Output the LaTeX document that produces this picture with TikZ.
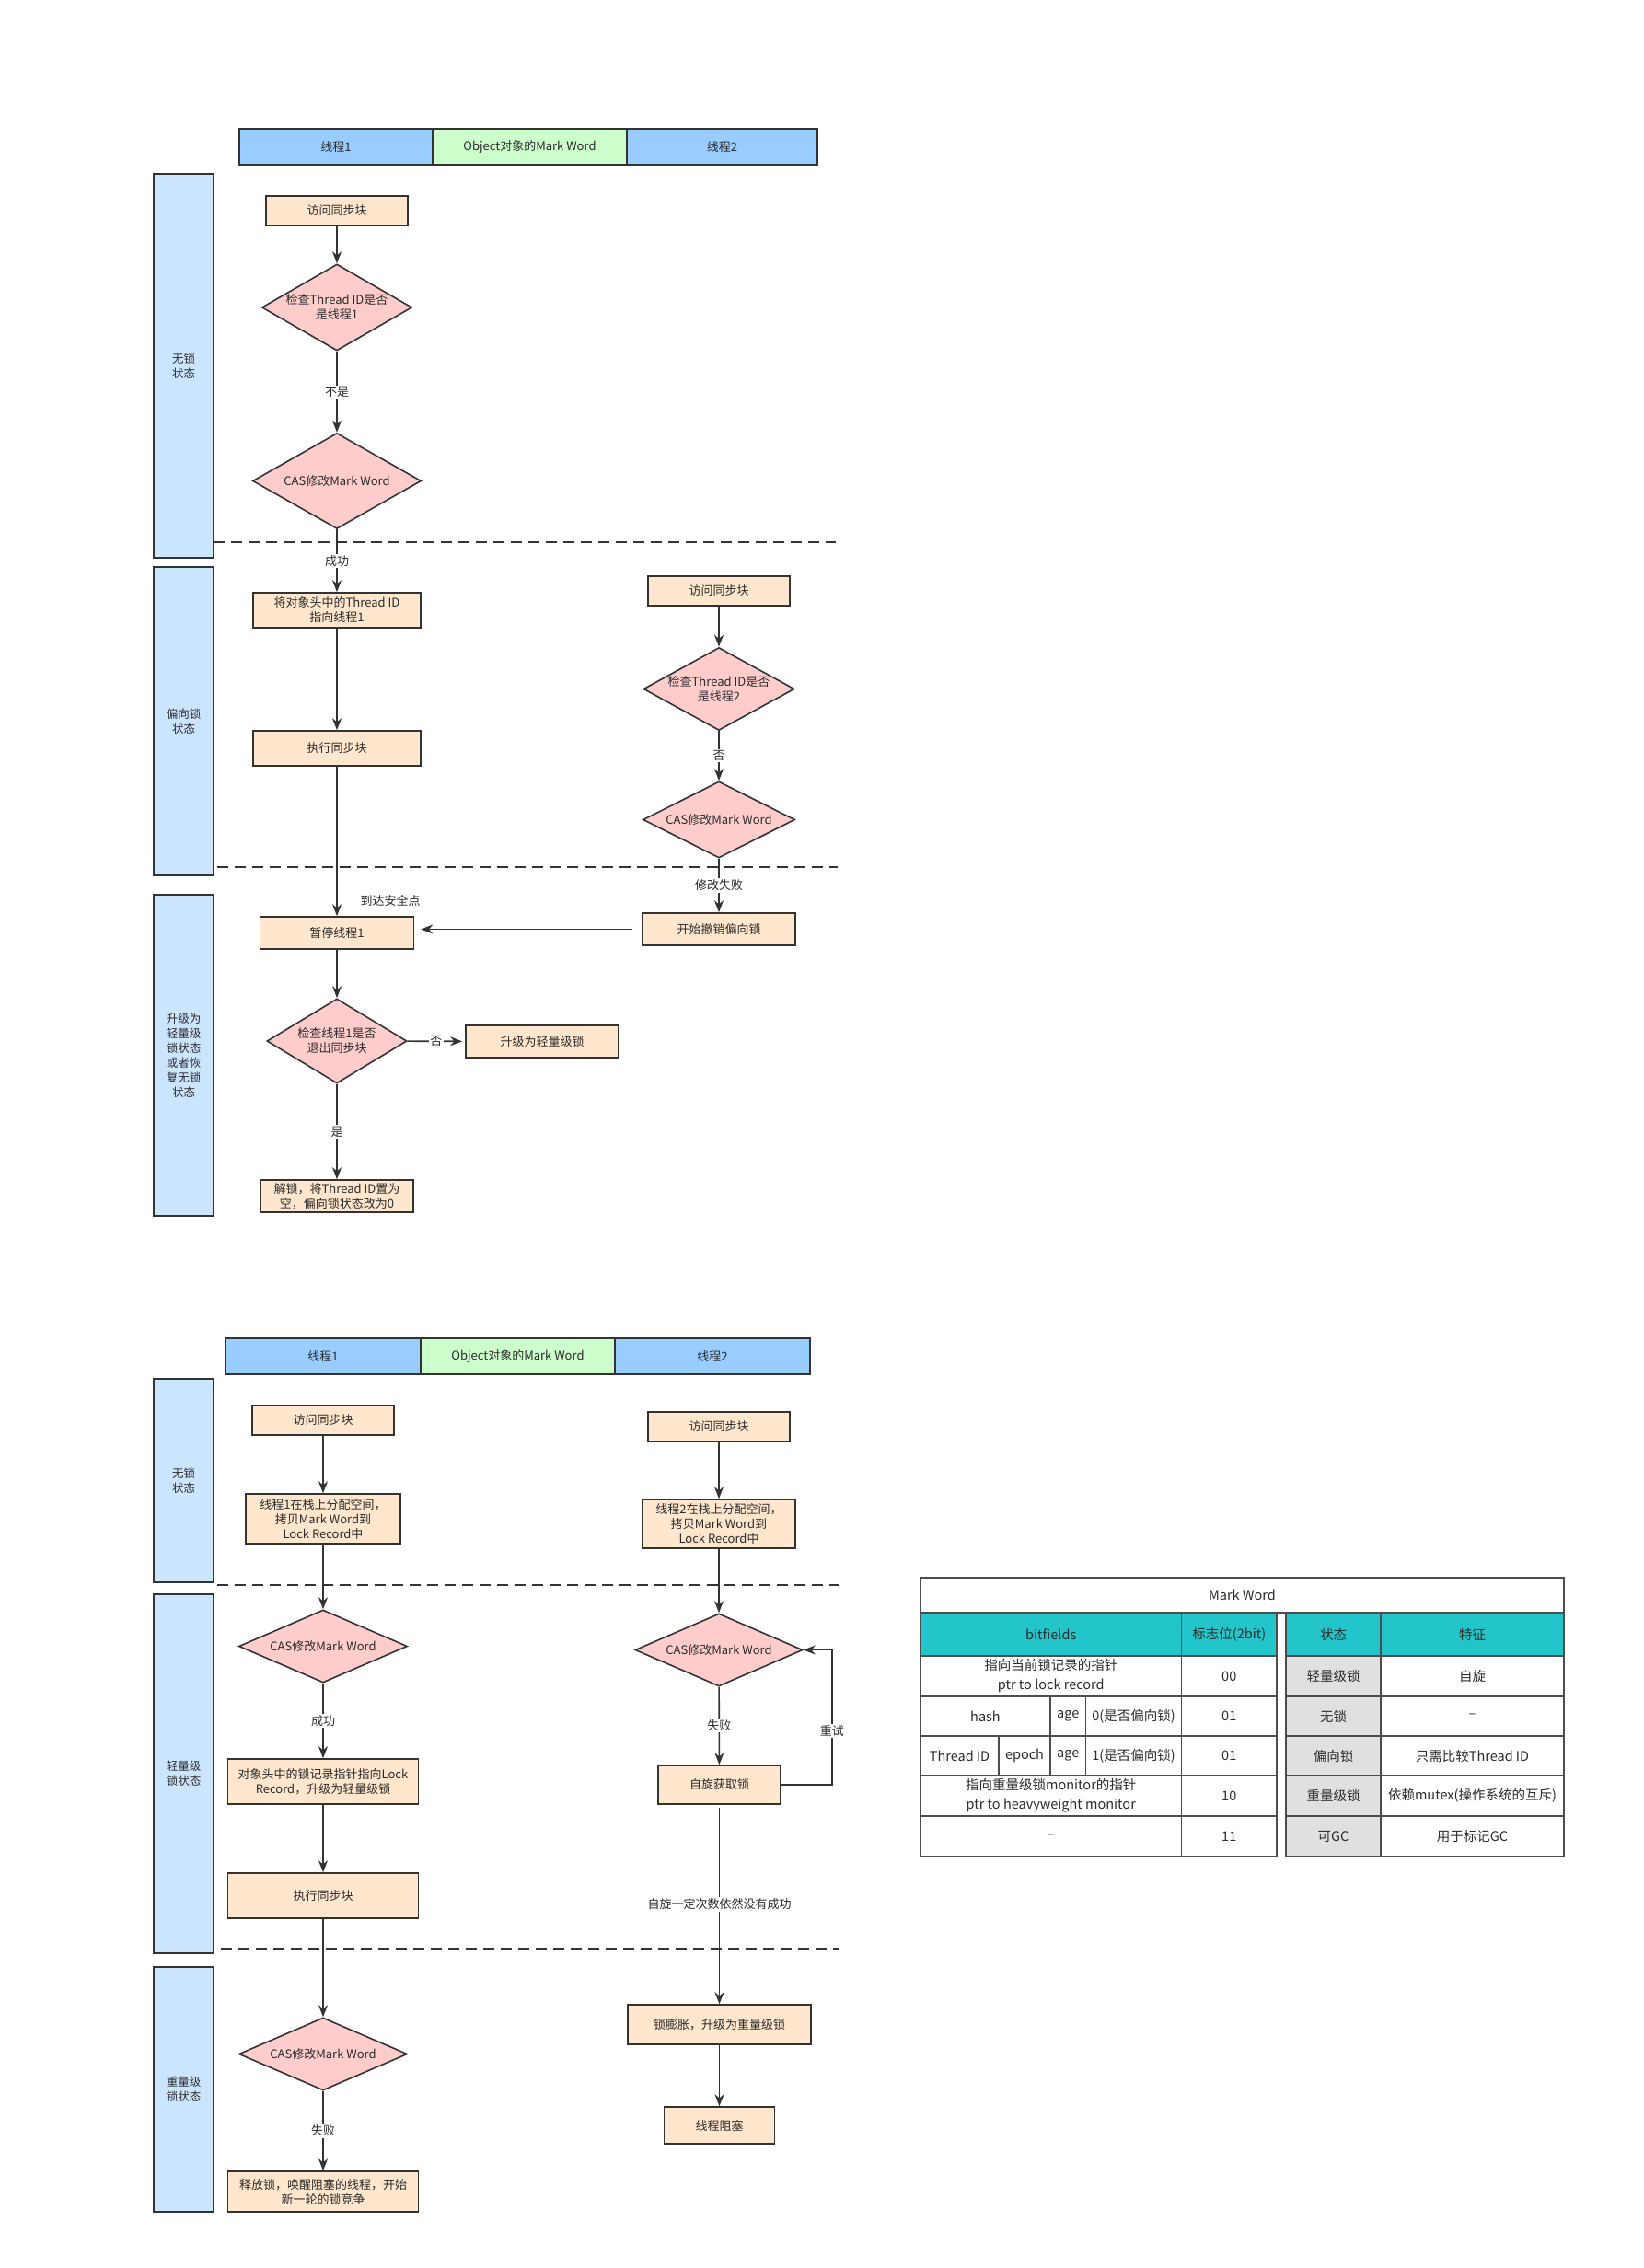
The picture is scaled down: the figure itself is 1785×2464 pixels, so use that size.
\documentclass[tikz,border=0pt]{standalone}
\usepackage{fontspec}
\setmainfont{Noto Sans CJK SC}
\usetikzlibrary{shapes.geometric,arrows.meta}

\newcommand{\boxfont}{\fontsize{13}{16}\selectfont}
\newcommand{\lanefont}{\fontsize{12.5}{16}\selectfont}
\newcommand{\tabfont}{\fontsize{14.5}{21}\selectfont}

\begin{document}
\begin{tikzpicture}[x=1pt, y=-1pt, every node/.style={text=txtc}]
  \definecolor{linec}{HTML}{333333} \definecolor{txtc}{HTML}{2B2B2B} \definecolor{boxc}{HTML}{FFE6CC}
  \definecolor{decc}{HTML}{FFCCCC} \definecolor{lanec}{HTML}{CCE5FF} \definecolor{headblue}{HTML}{99CCFF}
  \definecolor{headgreen}{HTML}{CCFFCC} \definecolor{tealc}{HTML}{22C5C9} \definecolor{grayc}{HTML}{E0E0E0}
  \definecolor{tabline}{HTML}{4D4D4D}
  \tikzstyle{box}=[draw=linec, fill=boxc, line width=1.6pt, align=center, inner sep=0pt, font=\boxfont]
  \tikzstyle{decision}=[diamond, draw=linec, fill=decc, line width=1.6pt, align=center, inner sep=0pt, font=\boxfont]
  \tikzstyle{lane}=[draw=linec, fill=lanec, line width=1.6pt, align=center, minimum width=65pt, font=\lanefont]
  \tikzstyle{head}=[draw=linec, line width=2pt, minimum height=39pt, inner sep=0pt, font=\boxfont]
  \tikzstyle{edge}=[-{Stealth[length=13pt,width=10pt]}, line width=1.6pt, draw=linec]
  \tikzstyle{lbl}=[fill=white, inner sep=1.5pt, font=\boxfont]
  \tikzstyle{divider}=[dash pattern=on 12pt off 7pt, line width=1.8pt, draw=linec]
  \tikzstyle{grid}=[draw=tabline, line width=1.3pt]
  \tikzstyle{cell}=[align=center, inner sep=0pt, font=\tabfont]
  \useasboundingbox (0,0) rectangle (1785,2464);

  % headers and lanes
  \foreach \n/\x/\y/\w/\c/\txt in {top1/365/159.5/210/headblue/线程1, topmark/575.5/159.5/211/headgreen/Object对象的Mark Word,
      top2/784.5/159.5/207/headblue/线程2, bot1/351/1473.5/212/headblue/线程1,
      botmark/562.5/1473.5/211/headgreen/Object对象的Mark Word, bot2/774/1473.5/212/headblue/线程2} {
    \node[head, fill=\c, minimum width=\w] (\n) at (\x, \y) {\txt};
  }
  \foreach \n/\y/\h/\txt in {lane1/397.5/417/{无锁\\状态}, lane2/783.5/335/{偏向锁\\状态},
      lane3/1146.5/349/{升级为\\轻量级\\锁状态\\或者恢\\复无锁\\状态}, lane4/1608.5/221/{无锁\\状态},
      lane5/1927/390/{轻量级\\锁状态}, lane6/2270/266/{重量级\\锁状态}} {
    \node[lane, minimum height=\h] (\n) at (199.5, \y) {\txt};
  }
  \foreach \y/\xa/\xb in {589/232/908, 942/236/910, 1722/236/912, 2117/240/912} {
    \draw[divider] (\xa, \y) -- (\xb, \y);
  }

  % biased lock
  \node[box, minimum width=154, minimum height=32] (acc1) at (366, 229) {访问同步块};
  \node[decision, shape aspect=1.73, minimum width=163, minimum height=94] (chk1) at (366, 334) {检查Thread ID是否\\是线程1};
  \node[decision, shape aspect=1.76, minimum width=183, minimum height=104] (cas1) at (366, 522.5) {CAS修改Mark Word};
  \node[box, minimum width=182, minimum height=38] (setid) at (366, 663) {将对象头中的Thread ID\\指向线程1};
  \node[box, minimum width=182, minimum height=38] (exec1) at (366, 813) {执行同步块};
  \node[box, minimum width=167, minimum height=35] (pause) at (366, 1013.5) {暂停线程1};
  \node[decision, shape aspect=1.65, minimum width=152, minimum height=92] (chkexit) at (366, 1131) {检查线程1是否\\退出同步块};
  \node[box, minimum width=166, minimum height=35] (tolight) at (589, 1131.5) {升级为轻量级锁};
  \node[box, minimum width=166, minimum height=35] (unlock) at (366, 1299.5) {解锁，将Thread ID置为\\空，偏向锁状态改为0};
  \node[font=\boxfont] (safept) at (424, 978) {到达安全点};
  \node[box, minimum width=154, minimum height=32] (acc2) at (781, 642) {访问同步块};
  \node[decision, shape aspect=1.82, minimum width=164, minimum height=90] (chk2) at (781, 748.5) {检查Thread ID是否\\是线程2};
  \node[decision, shape aspect=1.99, minimum width=165, minimum height=83] (cas2) at (781, 890.5) {CAS修改Mark Word};
  \node[box, minimum width=166, minimum height=35] (revoke) at (781, 1009.5) {开始撤销偏向锁};
  \draw[edge] (acc1) -- (chk1);
  \draw[edge] (chk1) -- node[lbl] {不是} (cas1);
  \draw[edge] (cas1) -- node[lbl] {成功} (setid);
  \draw[edge] (setid) -- (exec1);
  \draw[edge] (exec1) -- (pause);
  \draw[edge] (acc2) -- (chk2);
  \draw[edge] (chk2) -- node[lbl] {否} (cas2);
  \draw[edge] (cas2) -- node[lbl] {修改失败} (revoke);
  \draw[edge, shorten <=10pt, shorten >=7pt] (revoke.west) -- (revoke.west -| pause.east);
  \draw[edge] (pause) -- (chkexit);
  \draw[edge, shorten >=3pt] (chkexit) -- node[lbl] {否} (tolight);
  \draw[edge] (chkexit) -- node[lbl] {是} (unlock);

  % lightweight and heavyweight lock
  \node[box, minimum width=154, minimum height=32] (bacc1) at (351, 1543) {访问同步块};
  \node[box, minimum width=168, minimum height=54] (copy1) at (351, 1650) {线程1在栈上分配空间，\\拷贝Mark Word到\\Lock Record中};
  \node[decision, shape aspect=2.32, minimum width=183, minimum height=79] (bcas1) at (351, 1788.5) {CAS修改Mark Word};
  \node[box, minimum width=207, minimum height=49] (ptrset) at (351, 1935.5) {对象头中的锁记录指针指向Lock\\Record，升级为轻量级锁};
  \node[box, minimum width=207, minimum height=49] (exec2) at (351, 2059.5) {执行同步块};
  \node[decision, shape aspect=2.32, minimum width=183, minimum height=79] (hcas) at (351, 2231.5) {CAS修改Mark Word};
  \node[box, minimum width=207, minimum height=44] (release) at (351, 2381) {释放锁，唤醒阻塞的线程，开始\\新一轮的锁竞争};
  \node[box, minimum width=154, minimum height=32] (bacc2) at (781, 1550) {访问同步块};
  \node[box, minimum width=166, minimum height=53] (copy2) at (781, 1655.5) {线程2在栈上分配空间，\\拷贝Mark Word到\\Lock Record中};
  \node[decision, shape aspect=2.3, minimum width=182, minimum height=79] (bcas2) at (781, 1792.5) {CAS修改Mark Word};
  \node[box, minimum width=133, minimum height=42] (spin) at (781.5, 1939) {自旋获取锁};
  \node[box, minimum width=199, minimum height=43] (inflate) at (781.5, 2199.5) {锁膨胀，升级为重量级锁};
  \node[box, minimum width=120, minimum height=40] (block) at (781.5, 2309) {线程阻塞};
  \draw[edge] (bacc1) -- (copy1);
  \draw[edge] (copy1) -- (bcas1);
  \draw[edge] (bcas1) -- node[lbl] {成功} (ptrset);
  \draw[edge] (ptrset) -- (exec2);
  \draw[edge] (exec2) -- (hcas);
  \draw[edge] (hcas) -- node[lbl] {失败} (release);
  \draw[edge] (bacc2) -- (copy2);
  \draw[edge] (copy2) -- (bcas2);
  \draw[edge] (bcas2) -- node[lbl] {失败} (spin);
  \draw[edge] (spin.east) -- ++(55,0) |- node[lbl, pos=0.2] {重试} (bcas2.east);
  \draw[edge, shorten <=3pt] (spin) -- node[lbl] {自旋一定次数依然没有成功} (inflate);
  \draw[edge] (inflate) -- (block);

  % mark word table
  \fill[tealc] (1000,1752) rectangle (1387,1799);
  \fill[tealc] (1397,1752) rectangle (1699,1799);
  \fill[grayc] (1397,1799) rectangle (1500,2017);
  \draw[grid] (1000,1714) rectangle (1699,1752);
  \draw[grid] (1000,1752) rectangle (1387,2017);
  \draw[grid] (1397,1752) rectangle (1699,2017);
  \draw[grid, line width=2pt] (1000,1752) -- (1699,1752);
  \foreach \y in {1799, 1843, 1886, 1929, 1973} {
    \draw[grid] (1000,\y) -- (1387,\y);
    \draw[grid] (1397,\y) -- (1699,\y);
  }
  \draw[grid] (1283.5,1752) -- (1283.5,2017);
  \draw[grid] (1500,1752) -- (1500,2017);
  \draw[grid] (1141,1843) -- (1141,1929);
  \draw[grid] (1179.5,1843) -- (1179.5,1929);
  \draw[grid] (1085,1886) -- (1085,1929);
  \node[cell] (mwtitle) at (1349.5,1733) {Mark Word};
  \foreach \n/\x/\y/\txt in {hbits/1141.75/1775.5/bitfields, hflag/1335.25/1775.5/标志位(2bit),
      hstate/1448.5/1775.5/状态, hfeat/1599.5/1775.5/特征,
      ptrlock/1141.75/1821/{指向当前锁记录的指针\\ptr to lock record}, flag1/1335.25/1821/00,
      st1/1448.5/1821/轻量级锁, ft1/1599.5/1821/自旋,
      hash/1070.5/1864.5/hash, age1/1160.25/1864.5/age, bias0/1231.5/1864.5/0(是否偏向锁),
      flag2/1335.25/1864.5/01, st2/1448.5/1864.5/无锁, ft2/1599.5/1864.5/–,
      tid/1042.5/1907.5/Thread ID, epoch/1113/1907.5/epoch, age2/1160.25/1907.5/age,
      bias1/1231.5/1907.5/1(是否偏向锁), flag3/1335.25/1907.5/01, st3/1448.5/1907.5/偏向锁,
      ft3/1599.5/1907.5/只需比较Thread ID,
      ptrmon/1141.75/1951/{指向重量级锁monitor的指针\\ptr to heavyweight monitor}, flag4/1335.25/1951/10,
      st4/1448.5/1951/重量级锁, ft4/1599.5/1951/依赖mutex(操作系统的互斥),
      gcbits/1141.75/1995/–, flag5/1335.25/1995/11, st5/1448.5/1995/可GC, ft5/1599.5/1995/用于标记GC} {
    \node[cell] (\n) at (\x, \y) {\txt};
  }
\end{tikzpicture}
\end{document}
